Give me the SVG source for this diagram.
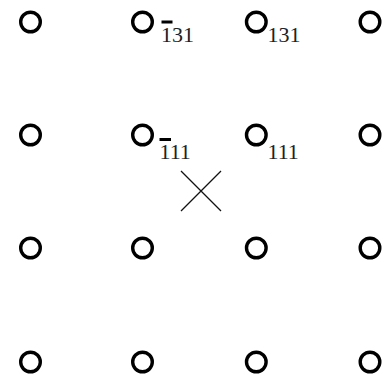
<svg xmlns="http://www.w3.org/2000/svg" width="385" height="379" viewBox="0 0 385 379">
<style>
.a{fill:none;stroke:#000;stroke-width:3.4}
.l{font-family:"Liberation Serif",serif;font-size:22px;fill:#222}
.b{fill:#000}
.x{stroke:#111;stroke-width:1.3;fill:none}
</style>
<rect width="385" height="379" fill="#fff"/>
<g id="n11"><circle class="a" cx="30.5" cy="22" r="9.8"/></g>
<g id="n12"><circle class="a" cx="142.5" cy="22" r="9.8"/><rect class="b" x="161.5" y="20.5" width="11" height="3"/><text class="l" x="161" y="42">131</text></g>
<g id="n13"><circle class="a" cx="256.3" cy="22" r="9.8"/><text class="l" x="267.5" y="42">131</text></g>
<g id="n14"><circle class="a" cx="370" cy="22" r="9.8"/></g>
<g id="n21"><circle class="a" cx="30.5" cy="135" r="9.8"/></g>
<g id="n22"><circle class="a" cx="142.5" cy="135" r="9.8"/><rect class="b" x="159.5" y="138" width="11.5" height="3"/><text class="l" x="159.5" y="159">111</text></g>
<g id="n23"><circle class="a" cx="256.3" cy="135" r="9.8"/><text class="l" x="267.5" y="159">111</text></g>
<g id="n24"><circle class="a" cx="370" cy="135" r="9.8"/></g>
<g id="n31"><circle class="a" cx="30.5" cy="248" r="9.8"/></g>
<g id="n32"><circle class="a" cx="142.5" cy="248" r="9.8"/></g>
<g id="n33"><circle class="a" cx="256.3" cy="248" r="9.8"/></g>
<g id="n34"><circle class="a" cx="370" cy="248" r="9.8"/></g>
<g id="n41"><circle class="a" cx="30.5" cy="362" r="9.8"/></g>
<g id="n42"><circle class="a" cx="142.5" cy="362" r="9.8"/></g>
<g id="n43"><circle class="a" cx="256.3" cy="362" r="9.8"/></g>
<g id="n44"><circle class="a" cx="370" cy="362" r="9.8"/></g>
<g id="connectors"><path class="x" d="M181 171L221 211M221 171L181 211"/></g>
</svg>
